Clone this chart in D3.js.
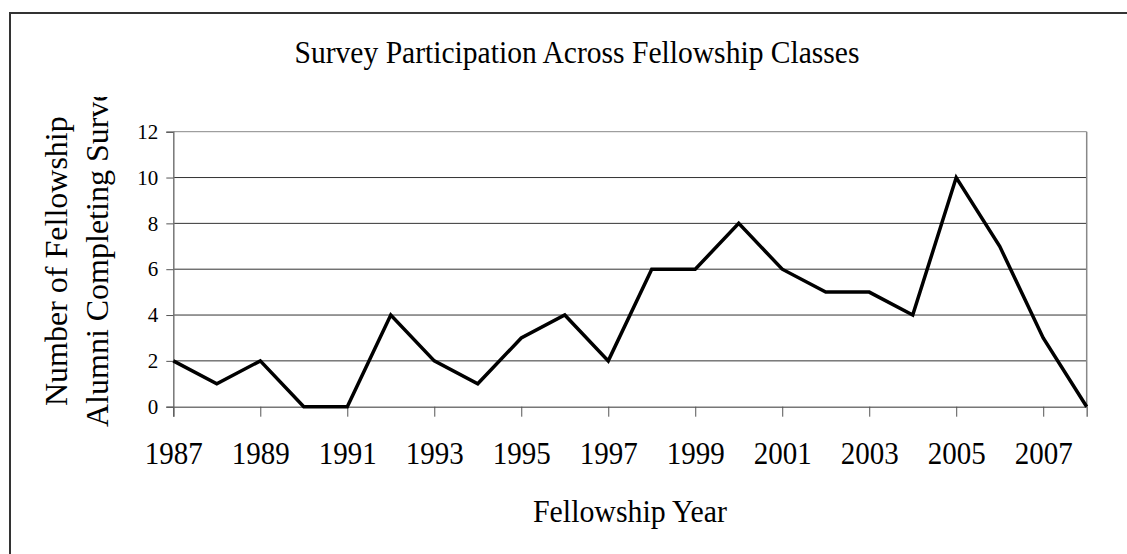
<!DOCTYPE html>
<html>
<head>
<meta charset="utf-8">
<script src="https://cdn.jsdelivr.net/npm/d3@7"></script>
<style>
body{margin:0;background:#fff;}
text{font-family:"Liberation Serif","Times New Roman",serif;fill:#000;}
</style>
</head>
<body>
<svg id="chart" width="1127" height="554"></svg>
<script>
const years = [1987,1988,1989,1990,1991,1992,1993,1994,1995,1996,1997,1998,1999,2000,2001,2002,2003,2004,2005,2006,2007,2008];
const counts = [2,1,2,0,0,4,2,1,3,4,2,6,6,8,6,5,5,4,10,7,3,0];
const yTicks = [0,2,4,6,8,10,12];
const xTickYears = [1987,1989,1991,1993,1995,1997,1999,2001,2003,2005,2007];
const titleText = "Survey Participation Across Fellowship Classes";
const xTitle = "Fellowship Year";
const yTitleLines = ["Number of Fellowship","Alumni Completing Survey"];

const svg = d3.select("#chart");
const L = 173.3, R = 1086.7, T = 131.7, B = 406.7;

// outer chart border (extends beyond the picture on right/bottom)
svg.append("rect").attr("x",10).attr("y",13).attr("width",1200).attr("height",700)
  .attr("fill","none").attr("stroke","#333").attr("stroke-width",2);

const x = d3.scalePoint().domain(years).range([L,R]);
const y = d3.scaleLinear().domain([0,12]).range([B,T]);

// gridlines
svg.append("g").selectAll("line").data(yTicks.filter(d=>d>0)).join("line")
  .attr("x1",L).attr("x2",R).attr("y1",d=>y(d)).attr("y2",d=>y(d))
  .attr("stroke",d=>d===12?"#888":"#333").attr("stroke-width",1);
// right border of plot
svg.append("line").attr("x1",R).attr("x2",R).attr("y1",T).attr("y2",B)
  .attr("stroke","#888").attr("stroke-width",1.5);

// y axis
const yAxis = d3.axisLeft(y).tickValues(yTicks).tickSize(7).tickPadding(8);
const gy = svg.append("g").attr("transform",`translate(${L},0)`).call(yAxis);
gy.select(".domain").attr("stroke","#777").attr("stroke-width",1.5);
gy.selectAll(".tick line").attr("stroke","#555");
gy.selectAll(".tick text").attr("font-size",21).attr("font-family","Liberation Serif").attr("fill","#000");

// x axis
const xAxis = d3.axisBottom(x).tickValues(xTickYears).tickSize(10).tickPadding(26).tickFormat(d3.format("d"));
const gx = svg.append("g").attr("transform",`translate(0,${B})`).call(xAxis);
gx.select(".domain").attr("stroke","#777").attr("stroke-width",1.5);
gx.selectAll(".tick line").attr("stroke","#555");
gx.selectAll(".tick text").attr("font-size",32).attr("font-family","Liberation Serif").attr("fill","#000")
  .attr("textLength",58).attr("lengthAdjust","spacingAndGlyphs").attr("dy","0.68em");

// line
const line = d3.line().x((d,i)=>x(years[i])).y(d=>y(d));
svg.append("path").datum(counts).attr("d",line).attr("fill","none")
  .attr("stroke","#000").attr("stroke-width",3.5).attr("stroke-linejoin","miter");

// title
svg.append("text").attr("x",577).attr("y",63).attr("text-anchor","middle")
  .attr("font-size",32).attr("textLength",565).attr("lengthAdjust","spacingAndGlyphs").text(titleText);

// x title
svg.append("text").attr("x",630).attr("y",522).attr("text-anchor","middle")
  .attr("font-size",32).attr("textLength",194).attr("lengthAdjust","spacingAndGlyphs").text(xTitle);

// y title (clipped at top)
svg.append("clipPath").attr("id","yclip").append("rect")
  .attr("x",0).attr("y",97).attr("width",160).attr("height",400);
const yt = svg.append("g").attr("clip-path","url(#yclip)");
const yBase = [[67,406],[108,427]];
yTitleLines.forEach((t,i)=>{
  yt.append("text").attr("transform",`translate(${yBase[i][0]},${yBase[i][1]}) rotate(-90)`)
    .attr("text-anchor","start").attr("font-size",32).text(t);
});
</script>
</body>
</html>
